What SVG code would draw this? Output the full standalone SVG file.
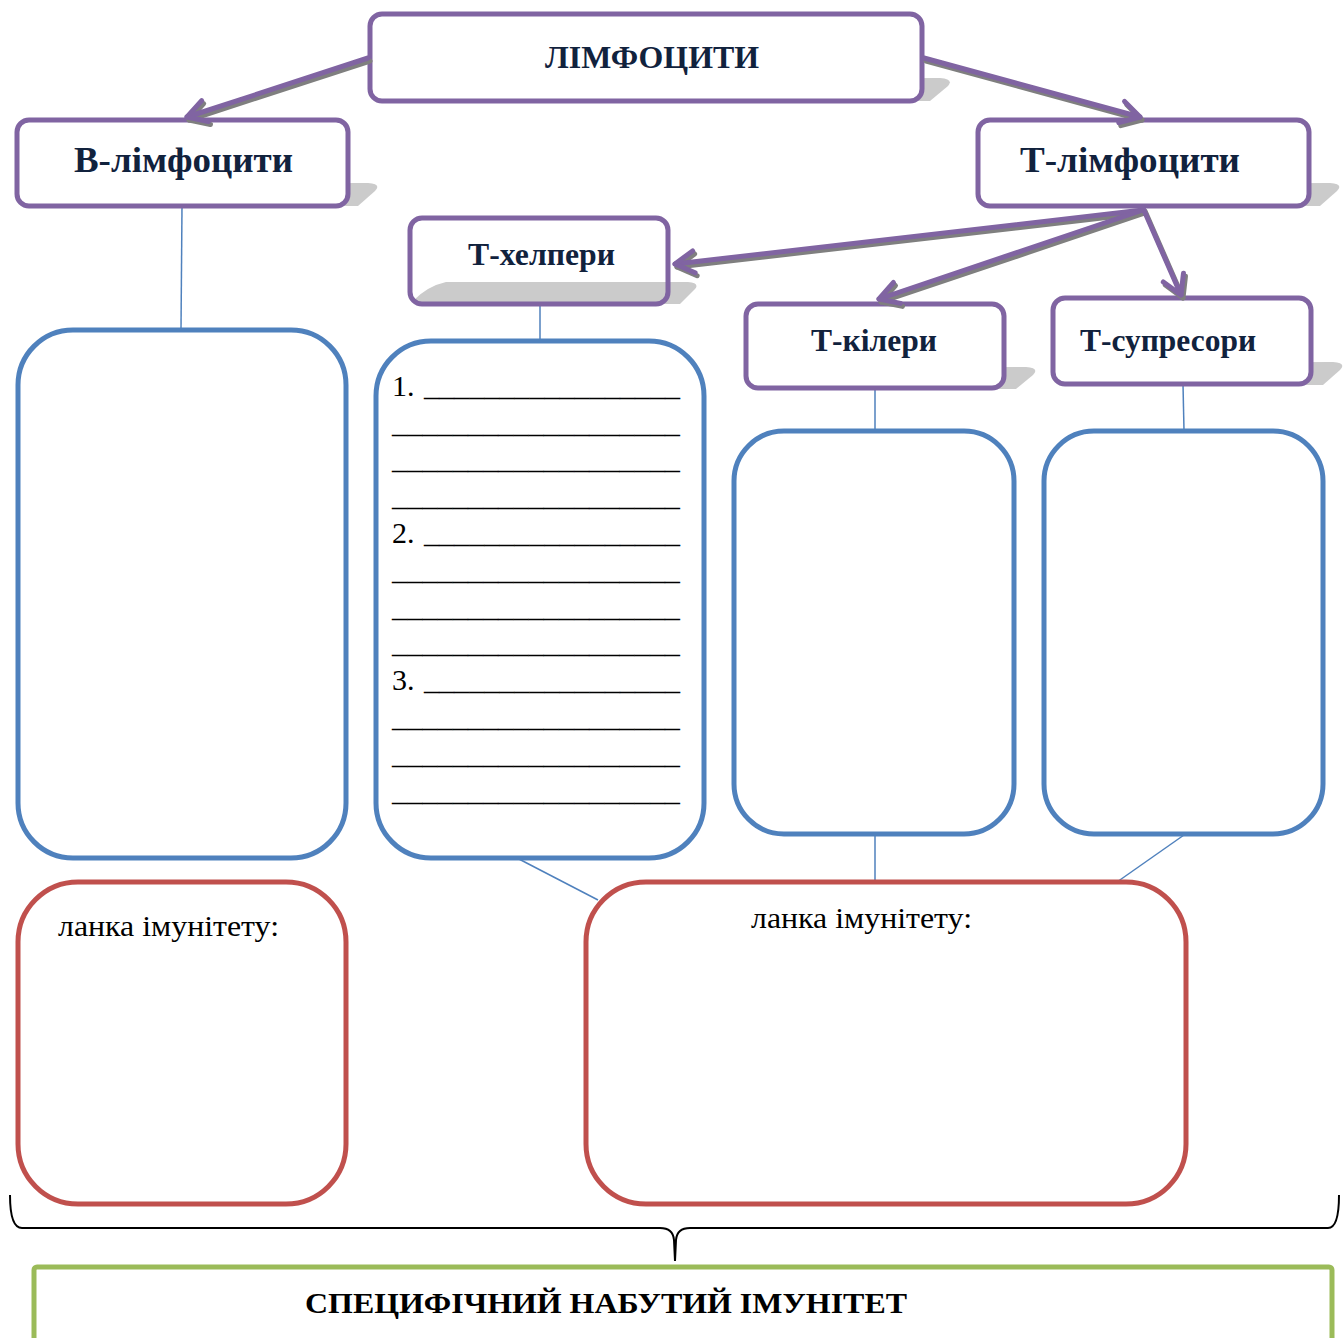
<svg xmlns="http://www.w3.org/2000/svg" width="1343" height="1338" viewBox="0 0 1343 1338">
  <style>
    .pbox { fill: #ffffff; stroke: #8064A2; stroke-width: 5; }
    .pframe { fill: none; stroke: #8064A2; stroke-width: 5; }
    .shadow { fill: #CBCBCB; }
    .head { font-family: "Liberation Serif", "Times New Roman", serif; font-weight: bold; fill: #11223D; }
    .title { font-family: "Liberation Serif", "Times New Roman", serif; font-weight: bold; fill: #000000; }
    .body { font-family: "Liberation Serif", "Times New Roman", serif; fill: #000000; }
    .bbox { fill: none; stroke: #4F81BD; stroke-width: 5; }
    .rbox { fill: none; stroke: #C0504D; stroke-width: 5; }
    .link { stroke: #4F81BD; stroke-width: 1.5; fill: none; }
    .arr { stroke: #8064A2; stroke-width: 5; fill: none; stroke-linecap: round; }
    .arrsh { stroke: #7F7F7F; stroke-width: 5; fill: none; stroke-linecap: round; }
  </style>
  <defs>
    <marker id="headP" markerUnits="userSpaceOnUse" markerWidth="40" markerHeight="40" viewBox="-30 -20 40 40" refX="0" refY="0" orient="auto" overflow="visible">
      <path d="M -19 -11 L 0 0 L -19 11" fill="none" stroke="#8064A2" stroke-width="5" stroke-linecap="round" stroke-linejoin="round"/>
    </marker>
    <marker id="headS" markerUnits="userSpaceOnUse" markerWidth="40" markerHeight="40" viewBox="-30 -20 40 40" refX="0" refY="0" orient="auto" overflow="visible">
      <path d="M -19 -11 L 0 0 L -19 11" fill="none" stroke="#7F7F7F" stroke-width="5" stroke-linecap="round" stroke-linejoin="round"/>
    </marker>
  </defs>
  <rect width="1343" height="1338" fill="#ffffff"/>

  <!-- thin links between boxes -->
  <g id="links">
    <line class="link" x1="182" y1="206" x2="181" y2="330"/>
    <line class="link" x1="540" y1="304" x2="540" y2="341"/>
    <line class="link" x1="875" y1="388" x2="875" y2="431"/>
    <line class="link" x1="1183" y1="384" x2="1184" y2="431"/>
    <line class="link" x1="875" y1="834" x2="875" y2="882"/>
    <line class="link" x1="1184" y1="835" x2="1117" y2="882"/>
    <line class="link" x1="517" y1="858" x2="598" y2="900"/>
  </g>

  <!-- top level -->
  <g id="lymphocytes">
    <path class="shadow" d="M 400 80 L 940 78 Q 954 79 948 86 L 930 101 L 380 101 Z"/>
    <rect class="pbox" x="370" y="14" width="552" height="87" rx="12"/>
    <text class="head" x="545" y="68" font-size="32" textLength="214" lengthAdjust="spacingAndGlyphs">ЛІМФОЦИТИ</text>
  </g>

  <g id="b-lymphocytes">
    <path class="shadow" d="M 40 184 L 368 183 Q 382 184 375 191 L 358 206 L 30 206 Z"/>
    <rect class="pbox" x="17" y="120" width="331" height="86" rx="12"/>
    <text class="head" x="74" y="172" font-size="36" textLength="219" lengthAdjust="spacingAndGlyphs">В-лімфоцити</text>
  </g>

  <g id="t-lymphocytes">
    <path class="shadow" d="M 1000 184 L 1330 183 Q 1344 184 1337 191 L 1320 206 L 990 206 Z"/>
    <rect class="pbox" x="978" y="120" width="331" height="86" rx="12"/>
    <text class="head" x="1020" y="172" font-size="36" textLength="220" lengthAdjust="spacingAndGlyphs">Т-лімфоцити</text>
  </g>

  <g id="t-helpers">
    <rect class="pbox" x="410" y="218" width="258" height="86" rx="12" style="stroke:none"/>
    <path class="shadow" d="M 446 282 L 688 282 Q 700 283 695 289 L 680 304 L 414 304 L 414 300 Q 428 286 446 282 Z"/>
    <rect class="pframe" x="410" y="218" width="258" height="86" rx="12"/>
    <text class="head" x="468" y="265" font-size="32" textLength="147" lengthAdjust="spacingAndGlyphs">Т-хелпери</text>
  </g>

  <g id="t-killers">
    <path class="shadow" d="M 770 368 L 1026 367 Q 1040 368 1033 375 L 1016 389 L 756 389 Z"/>
    <rect class="pbox" x="746" y="304" width="258" height="84" rx="12"/>
    <text class="head" x="811" y="351" font-size="32" textLength="126" lengthAdjust="spacingAndGlyphs">Т-кілери</text>
  </g>

  <g id="t-suppressors">
    <path class="shadow" d="M 1076 363 L 1333 362 Q 1347 363 1340 370 L 1323 385 L 1063 385 Z"/>
    <rect class="pbox" x="1053" y="298" width="258" height="86" rx="12"/>
    <text class="head" x="1080" y="351" font-size="32" textLength="176" lengthAdjust="spacingAndGlyphs">Т-супресори</text>
  </g>

  <!-- branching arrows with drop shadow -->
  <g id="arrows">
    <g transform="translate(2,3)">
      <line class="arrsh" x1="368" y1="58" x2="187" y2="117" marker-end="url(#headS)"/>
      <line class="arrsh" x1="924" y1="58" x2="1140" y2="117" marker-end="url(#headS)"/>
      <line class="arrsh" x1="1143" y1="210" x2="675" y2="264" marker-end="url(#headS)"/>
      <line class="arrsh" x1="1143" y1="210" x2="879" y2="299" marker-end="url(#headS)"/>
      <line class="arrsh" x1="1143" y1="208" x2="1181" y2="295" marker-end="url(#headS)"/>
    </g>
    <line class="arr" x1="368" y1="58" x2="187" y2="117" marker-end="url(#headP)"/>
    <line class="arr" x1="924" y1="58" x2="1140" y2="117" marker-end="url(#headP)"/>
    <line class="arr" x1="1143" y1="210" x2="675" y2="264" marker-end="url(#headP)"/>
    <line class="arr" x1="1143" y1="210" x2="879" y2="299" marker-end="url(#headP)"/>
    <line class="arr" x1="1143" y1="208" x2="1181" y2="295" marker-end="url(#headP)"/>
  </g>

  <!-- function boxes -->
  <g id="b-functions">
    <rect class="bbox" x="18" y="330" width="328" height="528" rx="55"/>
  </g>

  <g id="t-helper-functions">
    <rect class="bbox" x="376" y="341" width="328" height="517" rx="55"/>
    <g class="body" font-size="30">
      <text x="392" y="396">1.</text>
      <text x="424" y="396" textLength="256" lengthAdjust="spacingAndGlyphs">_________________</text>
      <text x="392" y="433" textLength="288" lengthAdjust="spacingAndGlyphs">___________________</text>
      <text x="392" y="469" textLength="288" lengthAdjust="spacingAndGlyphs">___________________</text>
      <text x="392" y="506" textLength="288" lengthAdjust="spacingAndGlyphs">___________________</text>
      <text x="392" y="543">2.</text>
      <text x="424" y="543" textLength="256" lengthAdjust="spacingAndGlyphs">_________________</text>
      <text x="392" y="580" textLength="288" lengthAdjust="spacingAndGlyphs">___________________</text>
      <text x="392" y="617" textLength="288" lengthAdjust="spacingAndGlyphs">___________________</text>
      <text x="392" y="653" textLength="288" lengthAdjust="spacingAndGlyphs">___________________</text>
      <text x="392" y="690">3.</text>
      <text x="424" y="690" textLength="256" lengthAdjust="spacingAndGlyphs">_________________</text>
      <text x="392" y="727" textLength="288" lengthAdjust="spacingAndGlyphs">___________________</text>
      <text x="392" y="764" textLength="288" lengthAdjust="spacingAndGlyphs">___________________</text>
      <text x="392" y="801" textLength="288" lengthAdjust="spacingAndGlyphs">___________________</text>
    </g>
  </g>

  <g id="t-killer-functions">
    <rect class="bbox" x="734" y="431" width="280" height="403" rx="50"/>
  </g>

  <g id="t-suppressor-functions">
    <rect class="bbox" x="1044" y="431" width="279" height="403" rx="50"/>
  </g>

  <!-- immunity links -->
  <g id="humoral-link">
    <rect class="rbox" x="18" y="882" width="328" height="322" rx="60"/>
    <text class="body" x="58" y="936" font-size="30" textLength="221" lengthAdjust="spacingAndGlyphs">ланка імунітету:</text>
  </g>

  <g id="cellular-link">
    <rect class="rbox" x="586" y="882" width="600" height="322" rx="60"/>
    <text class="body" x="751" y="928" font-size="30" textLength="221" lengthAdjust="spacingAndGlyphs">ланка імунітету:</text>
  </g>

  <!-- curly brace grouping both links -->
  <g id="brace">
    <path d="M 10 1195 Q 10 1228 22 1228 L 660 1228 Q 673 1228 674 1240 L 675 1261 L 676 1240 Q 677 1228 690 1228 L 1328 1228 Q 1339 1228 1339 1195" fill="none" stroke="#000000" stroke-width="2"/>
  </g>

  <g id="acquired-immunity">
    <rect x="34" y="1267" width="1298" height="100" rx="3" fill="none" stroke="#9BBB59" stroke-width="5"/>
    <text class="title" x="305" y="1313" font-size="30" textLength="602" lengthAdjust="spacingAndGlyphs">СПЕЦИФІЧНИЙ НАБУТИЙ ІМУНІТЕТ</text>
  </g>
</svg>
